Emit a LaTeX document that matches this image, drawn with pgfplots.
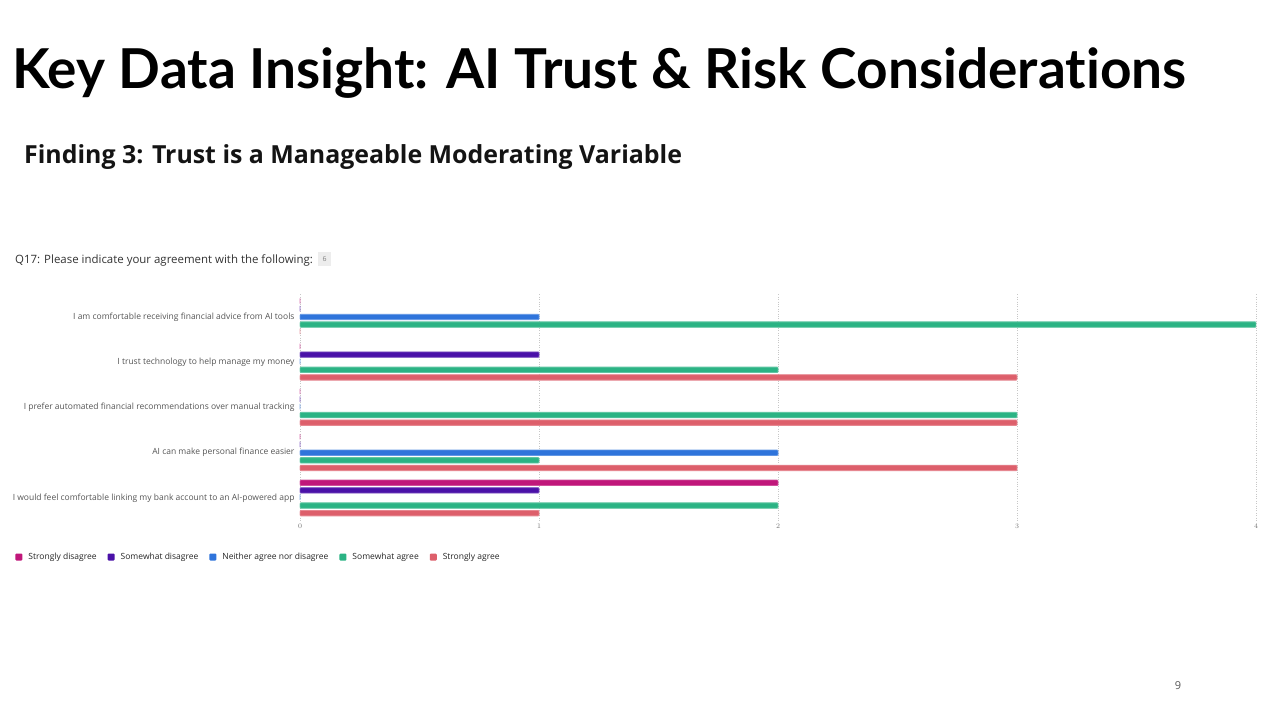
\documentclass[border=0pt]{standalone}
\usepackage{pgfplots}
\usepackage{pgfplotstable}
\pgfplotsset{compat=1.18}
\usepackage{fontspec}
\setmainfont{Open Sans}
\newfontfamily\titlefont{Lato}[Ligatures={NoCommon}]
\definecolor{sd}{HTML}{C0177A}
\definecolor{swd}{HTML}{4A11A8}
\definecolor{neu}{HTML}{2F74DB}
\definecolor{sa}{HTML}{2BB384}
\definecolor{sta}{HTML}{DD5F6B}
\definecolor{lbl}{HTML}{555555}

\pgfplotstableread{
idx sd swd neu sa sta
0 0 0 1 4 0
1 0 1 0 2 3
2 0 0 0 3 3
3 0 0 2 1 3
4 2 1 0 2 1
}\datatable

\begin{document}
\begin{tikzpicture}
\fill[white] (0pt,0pt) rectangle (1280pt,-720pt);
\path[use as bounding box] (0pt,0pt) rectangle (1280pt,-720pt);

\node[anchor=base west, inner sep=0pt] at (12pt,-88pt)
  {\titlefont\bfseries\fontsize{55}{64}\selectfont Key Data Insight: AI Trust \& Risk Considerations};
\node[anchor=base west, inner sep=0pt, text={black!92}] at (24pt,-163pt)
  {\bfseries\fontsize{24.9}{30}\selectfont Finding 3: Trust is a Manageable Moderating Variable};
\node[anchor=base west, inner sep=0pt, text={black!80}] at (15pt,-263pt)
  {\fontsize{11.45}{13}\selectfont Q17: Please indicate your agreement with the following:};
\node[fill=black!7, text=black!50, inner sep=2pt, minimum width=13pt, minimum height=14pt] at (324.5pt,-259pt)
  {\fontsize{7}{8}\selectfont 6};
\node[text=black!65] at (1178pt,-686pt) {\fontsize{11}{13}\selectfont 9};

\begin{axis}[
  at={(300pt,-520.6pt)}, anchor=south west,
  scale only axis, width=956pt, height=226.25pt,
  xmin=0, xmax=4, ymin=-0.5, ymax=4.5, y dir=reverse,
  xtick={0,1,2,3,4},
  ytick={0,1,2,3,4},
  yticklabels={I am comfortable receiving financial advice from AI tools,
               I trust technology to help manage my money,
               I prefer automated financial recommendations over manual tracking,
               AI can make personal finance easier,
               I would feel comfortable linking my bank account to an AI-powered app},
  yticklabel style={font=\fontsize{8.5}{10}\selectfont, text=lbl, xshift=-2pt},
  xticklabel style={font=\fontsize{7}{8}\selectfont, text=black!55},
  xmajorgrids, grid style={dotted, black!22, line width=0.8pt},
  axis line style={draw=none},
  major tick length=0pt,
  xbar, bar width=5.4pt,
  legend image code/.code={\fill[#1, draw=none, rounded corners=1pt] (0pt,-3.5pt) rectangle (7pt,3.5pt); \path[draw=none, fill=none] (0pt,0pt) -- (11pt,0pt);},
  legend style={at={(-0.301,-0.161)}, anchor=west, draw=none, fill=none,
    font=\fontsize{8.5}{10}\selectfont, text=black!85,
    /tikz/every even column/.append style={column sep=9pt}},
  legend columns=5, legend cell align=left,
  every axis plot/.append style={line width=0.8pt, rounded corners=0.8pt},
]
\addplot[fill=sd, draw=sd!75!white, bar shift=15.2pt] table[x=sd, y=idx] {\datatable};
\addplot[fill=swd, draw=swd!75!white, bar shift=7.6pt] table[x=swd, y=idx] {\datatable};
\addplot[fill=neu, draw=neu!75!white, bar shift=0pt] table[x=neu, y=idx] {\datatable};
\addplot[fill=sa, draw=sa!75!white, bar shift=-7.6pt] table[x=sa, y=idx] {\datatable};
\addplot[fill=sta, draw=sta!75!white, bar shift=-15.2pt] table[x=sta, y=idx] {\datatable};
\legend{Strongly disagree, Somewhat disagree, Neither agree nor disagree, Somewhat agree, Strongly agree}
\end{axis}
\end{tikzpicture}
\end{document}
